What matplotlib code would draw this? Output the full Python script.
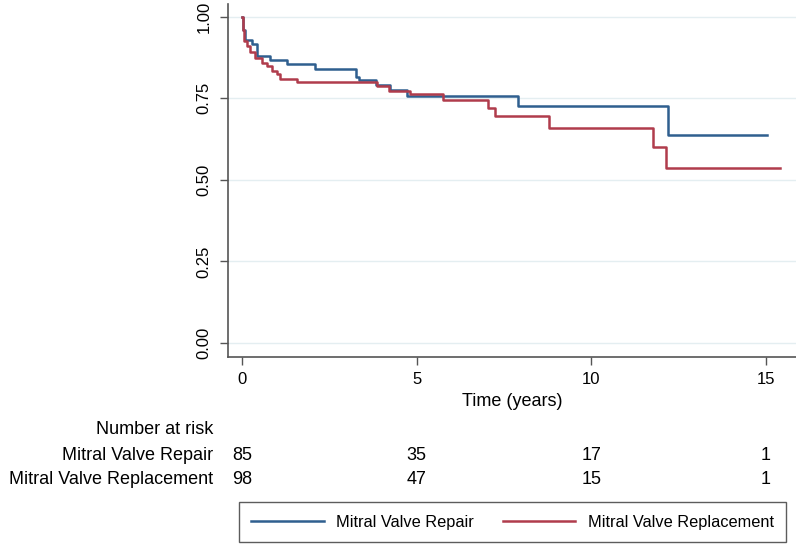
import numpy as np
import matplotlib.pyplot as plt
from matplotlib.transforms import blended_transform_factory

plt.rcParams["font.family"] = ["Liberation Sans", "DejaVu Sans"]

# Kaplan-Meier step data (time in years, survival after step)
repair_t = [0.0, 0.03, 0.08, 0.30, 0.42, 0.80, 1.30, 2.10, 3.25, 3.35, 3.85, 4.25, 4.72, 7.90, 12.20, 15.03]
repair_s = [1.00, 0.96, 0.93, 0.915, 0.88, 0.867, 0.855, 0.84, 0.815, 0.807, 0.792, 0.775, 0.757, 0.727, 0.637, 0.637]

replace_t = [0.0, 0.02, 0.06, 0.15, 0.23, 0.37, 0.57, 0.72, 0.86, 1.00, 1.10, 1.57, 3.86, 4.20, 4.80,
             5.75, 7.04, 7.24, 8.79, 11.76, 12.13, 15.40]
replace_s = [1.00, 0.96, 0.925, 0.91, 0.893, 0.873, 0.858, 0.848, 0.834, 0.824, 0.81, 0.801, 0.787, 0.773, 0.762,
             0.744, 0.719, 0.695, 0.658, 0.602, 0.536, 0.536]

risk_times = [0, 5, 10, 15]
risk_repair = [85, 35, 17, 1]
risk_replace = [98, 47, 15, 1]

group_names = ["Mitral Valve Repair", "Mitral Valve Replacement"]
BLUE = "#2f5f8f"
RED = "#b03c4c"
AXIS_GREY = "#555555"

fig = plt.figure(figsize=(7.96, 5.44), dpi=100)
W, H = 796, 544
ax = fig.add_axes([228 / W, (H - 357) / H, 568 / W, 353 / H])

# light grid lines
for yv in [0, 0.25, 0.5, 0.75, 1.0]:
    ax.axhline(yv, color="#e4eef1", lw=1.0, zorder=0)

ax.step(repair_t, repair_s, where="post", color=BLUE, lw=1.8, label=group_names[0])
ax.step(replace_t, replace_s, where="post", color=RED, lw=1.8, label=group_names[1])

ax.set_xlim(-0.40, 15.86)
ax.set_ylim(-0.043, 1.039)
ax.set_xticks(risk_times)
ax.set_yticks([0, 0.25, 0.5, 0.75, 1.0])
ax.set_yticklabels(["0.00", "0.25", "0.50", "0.75", "1.00"], rotation=90, va="center")
ax.tick_params(axis="both", labelsize=12, color=AXIS_GREY, length=6, width=1.0)
ax.tick_params(axis="y", pad=6)
ax.tick_params(axis="x", pad=5)

for side in ["top", "right"]:
    ax.spines[side].set_visible(False)
for side in ["left", "bottom"]:
    ax.spines[side].set_color(AXIS_GREY)
    ax.spines[side].set_linewidth(1.2)

ax.set_xlabel("Time (years)", fontsize=13, labelpad=4)

# number at risk table
tr = blended_transform_factory(ax.transData, fig.transFigure)
fig.text(213 / W, 1 - 429 / H, "Number at risk", ha="right", va="center", fontsize=13)
fig.text(213 / W, 1 - 455 / H, group_names[0], ha="right", va="center", fontsize=13)
fig.text(213 / W, 1 - 480 / H, group_names[1], ha="right", va="center", fontsize=13)
for t, n1, n2 in zip(risk_times, risk_repair, risk_replace):
    ax.text(t, 1 - 455 / H, str(n1), transform=tr, ha="center", va="center", fontsize=13)
    ax.text(t, 1 - 480 / H, str(n2), transform=tr, ha="center", va="center", fontsize=13)

leg = fig.legend(loc="center", bbox_to_anchor=(512.5 / W, 1 - 522 / H), ncol=2,
                 fontsize=11.8, frameon=True, fancybox=False, handlelength=4.4,
                 handletextpad=0.75, columnspacing=1.8, borderpad=0.75)
leg.get_frame().set_edgecolor("#333333")
leg.get_frame().set_linewidth(1.0)

fig.savefig("out.png", dpi=100)
